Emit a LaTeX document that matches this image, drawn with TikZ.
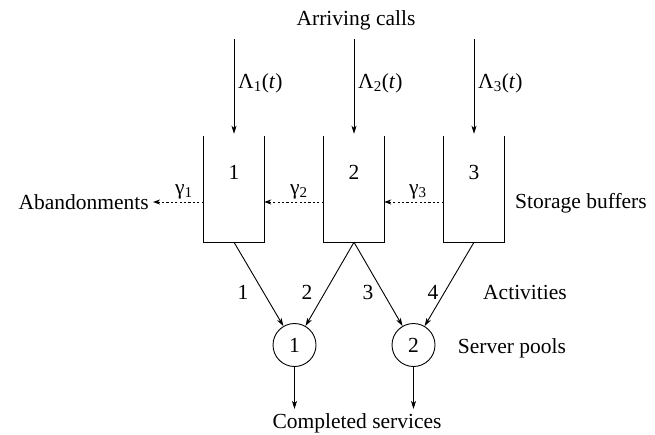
\documentclass[tikz,border=0pt]{standalone}
\usepackage{fontspec}
\setmainfont{Liberation Serif}
\usetikzlibrary{arrows.meta}
\tikzset{
  every node/.style={font=\fontsize{21.5}{25}\selectfont, inner sep=0pt},
  buf/.style={minimum width=60pt, minimum height=106pt, draw=none},
  pool/.style={circle, draw, line width=0.9pt, minimum size=43pt},
  arr/.style={line width=0.9pt, -{Stealth[length=8pt,width=5pt,inset=2pt]}},
  dasharr/.style={line width=0.9pt, dash pattern=on 2.2pt off 2.2pt, -{Stealth[length=7pt,width=5pt,inset=2pt]}},
  wall/.style={line width=0.9pt},
}
\newcommand{\gsub}[1]{γ\textsubscript{#1}}
\newcommand{\Lsub}[1]{Λ\textsubscript{#1}(\textit{t})}
\begin{document}
\begin{tikzpicture}[x=1pt,y=-1pt]
\useasboundingbox (0,0) rectangle (655,434);
% buffers
\node[buf] (b1) at (234,189) {};
\node[buf] (b2) at (354,189) {};
\node[buf] (b3) at (474,189) {};
\foreach \b in {b1,b2,b3}
  \draw[wall] (\b.north west) -- (\b.south west) -- (\b.south east) -- (\b.north east);
\node (n1) at (234,172) {1};
\node (n2) at (354,172) {2};
\node (n3) at (474,172) {3};
% arrivals
\node (arr) at (356,20) {Arriving calls};
\coordinate (a1) at (234,39);
\coordinate (a2) at (354,39);
\coordinate (a3) at (474,39);
\draw[arr] (a1) -- ([yshift=2pt]b1.north);
\draw[arr] (a2) -- ([yshift=2pt]b2.north);
\draw[arr] (a3) -- ([yshift=2pt]b3.north);
\node[anchor=west] (l1) at (238,83) {\Lsub{1}};
\node[anchor=west] (l2) at (358,83) {\Lsub{2}};
\node[anchor=west] (l3) at (478,83) {\Lsub{3}};
% abandonments
\node[anchor=east] (ab) at (149,202) {Abandonments};
\draw[dasharr] ([yshift=-13pt]b1.west) -- ([xshift=4pt]ab.east |- 0,202);
\draw[dasharr] ([yshift=-13pt]b2.west) -- ([yshift=-13pt]b1.east);
\draw[dasharr] ([yshift=-13pt]b3.west) -- ([yshift=-13pt]b2.east);
\node (g1) at (184,192) {\gsub{1}};
\node (g2) at (299,192) {\gsub{2}};
\node (g3) at (418,192) {\gsub{3}};
\node[anchor=west] (sb) at (515,203) {Storage buffers};
% pools
\node[pool] (p1) at (294.5,345) {1};
\node[pool] (p2) at (413.5,345) {2};
\draw[arr] (b1.south) -- (p1);
\draw[arr] (b2.south) -- (p1);
\draw[arr] (b2.south) -- (p2);
\draw[arr] (b3.south) -- (p2);
\node (c1) at (243,292) {1};
\node (c2) at (307,292) {2};
\node (c3) at (368,292) {3};
\node (c4) at (433,292) {4};
\node (act) at (525,292) {Activities};
\node (sp) at (512,348) {Server pools};
% outputs
\coordinate (o1) at (294.5,409);
\coordinate (o2) at (413.5,409);
\draw[arr] (p1.south) -- (o1);
\draw[arr] (p2.south) -- (o2);
\node (cs) at (357,423) {Completed services};
\end{tikzpicture}
\end{document}
